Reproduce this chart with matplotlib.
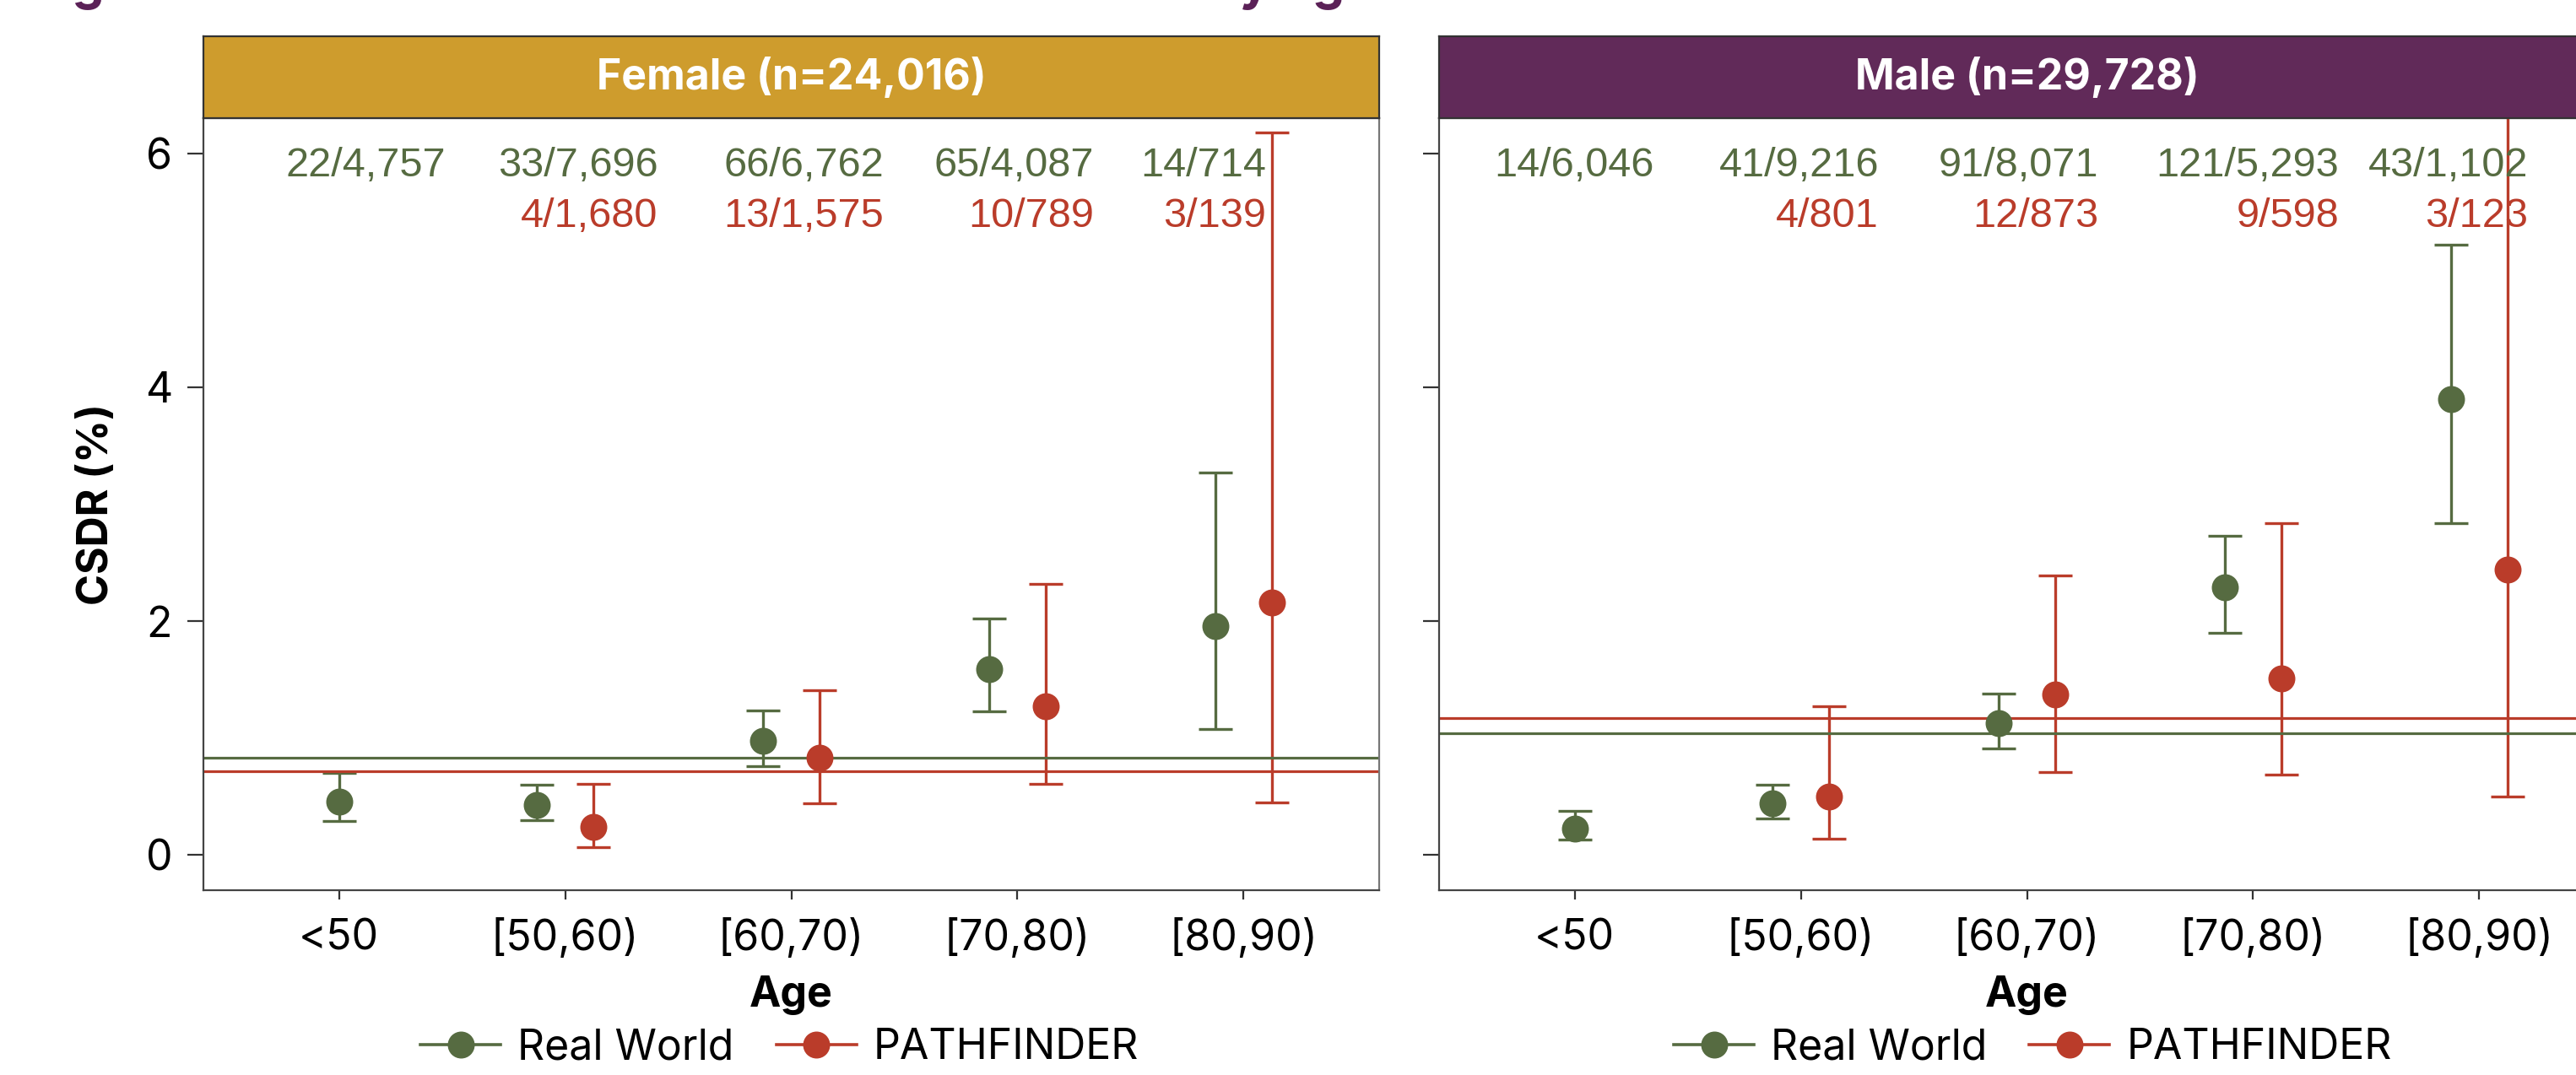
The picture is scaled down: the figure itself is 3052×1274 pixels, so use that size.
import numpy as np
import matplotlib
matplotlib.use("Agg")
import matplotlib.pyplot as plt
from matplotlib.lines import Line2D

plt.rcParams['font.family'] = ['Inter', 'DejaVu Sans']

# ---- data ----
age_groups = ["<50", "[50,60)", "[60,70)", "[70,80)", "[80,90)"]

female_rw_csdr = [0.46, 0.43, 0.98, 1.59, 1.96]
female_rw_lo = [0.29, 0.30, 0.76, 1.23, 1.08]
female_rw_hi = [0.70, 0.60, 1.24, 2.02, 3.27]
female_pf_csdr = [np.nan, 0.24, 0.83, 1.27, 2.16]
female_pf_lo = [np.nan, 0.065, 0.44, 0.61, 0.45]
female_pf_hi = [np.nan, 0.61, 1.41, 2.32, 6.18]

male_rw_csdr = [0.23, 0.44, 1.13, 2.29, 3.90]
male_rw_lo = [0.13, 0.31, 0.91, 1.90, 2.84]
male_rw_hi = [0.38, 0.60, 1.38, 2.73, 5.22]
male_pf_csdr = [np.nan, 0.50, 1.37, 1.51, 2.44]
male_pf_lo = [np.nan, 0.14, 0.71, 0.69, 0.50]
male_pf_hi = [np.nan, 1.27, 2.39, 2.84, 6.96]

female_rw_labels = ["22/4,757", "33/7,696", "66/6,762", "65/4,087", "14/714"]
female_pf_labels = ["", "4/1,680", "13/1,575", "10/789", "3/139"]
male_rw_labels = ["14/6,046", "41/9,216", "91/8,071", "121/5,293", "43/1,102"]
male_pf_labels = ["", "4/801", "12/873", "9/598", "3/123"]

female_overall = [0.83, 0.72]   # Real World, PATHFINDER
male_overall = [1.04, 1.17]

panel_titles = ["Female (n=24,016)", "Male (n=29,728)"]

# ---- styles ----
green = "#566B41"
red = "#BA3C2A"
strip_colors = ["#CE9C2D", "#612A59"]
label_offsets = [[0.47, 0.41, 0.41, 0.34, 0.10],
                 [0.35, 0.345, 0.316, 0.38, 0.216]]
dodge = 0.125

W, H = 3052, 1274
dpi = 200
fig = plt.figure(figsize=(W / dpi, H / dpi), dpi=dpi)

# figure title, cut off by the top edge (only descenders show)
title = fig.text(33 / W, 1.0 + 1 / H, "Figure 2. CSDR in Real World and PATHFINDER by age",
                 fontsize=18, fontweight='bold', color="#5B2157", va='baseline', ha='left')
renderer = fig.canvas.get_renderer()
tw = title.get_window_extent(renderer).width
title.set_fontsize(18 * 1600 / tw)

panels = [
    (female_rw_csdr, female_rw_lo, female_rw_hi, female_pf_csdr, female_pf_lo, female_pf_hi,
     female_rw_labels, female_pf_labels, female_overall),
    (male_rw_csdr, male_rw_lo, male_rw_hi, male_pf_csdr, male_pf_lo, male_pf_hi,
     male_rw_labels, male_pf_labels, male_overall),
]
lefts = [241, 1705]
legend_anchor = [0.49, 0.505]

x = np.arange(len(age_groups))
for i, p in enumerate(panels):
    rw, rw_lo, rw_hi, pf, pf_lo, pf_hi, rw_lab, pf_lab, overall = p
    rw = np.array(rw); pf = np.array(pf)
    ax = fig.add_axes([lefts[i] / W, 1 - 1055 / H, 1393 / W, 915 / H])

    # dodge only where both series exist
    both = ~np.isnan(pf)
    x_rw = np.where(both, x - dodge, x)
    x_pf = x + dodge

    ax.errorbar(x_rw, rw, yerr=[rw - np.array(rw_lo), np.array(rw_hi) - rw],
                fmt='none', ecolor=green, elinewidth=1.2, capsize=7.2, capthick=1.2, zorder=2)
    ax.errorbar(x_pf[both], pf[both],
                yerr=[pf[both] - np.array(pf_lo)[both], np.array(pf_hi)[both] - pf[both]],
                fmt='none', ecolor=red, elinewidth=1.2, capsize=7.2, capthick=1.2, zorder=2)
    ax.axhline(overall[0], color=green, lw=1.15, zorder=2.5)
    ax.axhline(overall[1], color=red, lw=1.15, zorder=2.5)
    ax.plot(x_rw, rw, 'o', color=green, ms=10.5, zorder=3)
    ax.plot(x_pf[both], pf[both], 'o', color=red, ms=10.5, zorder=3)

    for k in range(len(age_groups)):
        xt = x[k] + label_offsets[i][k]
        ax.text(xt, 5.80, rw_lab[k], color=green, ha='right', va='baseline',
                fontsize=17.5, family=['Liberation Sans'])
        if pf_lab[k]:
            ax.text(xt, 5.37, pf_lab[k], color=red, ha='right', va='baseline',
                    fontsize=17.5, family=['Liberation Sans'])

    ax.set_xlim(-0.6, 4.6)
    ax.set_ylim(-0.3, 6.3)
    ax.set_xticks(x)
    ax.set_xticklabels(age_groups)
    ax.set_yticks([0, 2, 4, 6])
    if i == 0:
        ax.set_yticklabels(["0", "2", "4", "6"])
        ax.set_ylabel("CSDR (%)", fontsize=18, fontweight='bold', labelpad=12)
    else:
        ax.set_yticklabels([])
    ax.set_xlabel("Age", fontsize=18, fontweight='bold', labelpad=7)
    ax.tick_params(axis='y', length=6.8, width=0.8, color='#333333', pad=6.5, labelsize=18)
    ax.tick_params(axis='x', length=4, width=0.8, color='#333333', pad=8, labelsize=18)
    for side in ['top', 'right']:
        ax.spines[side].set_color('#777777')
        ax.spines[side].set_linewidth(0.8)
    for side in ['left', 'bottom']:
        ax.spines[side].set_color('#444444')
        ax.spines[side].set_linewidth(0.8)

    # facet strip
    sax = fig.add_axes([lefts[i] / W, 1 - 140 / H, 1393 / W, 97 / H])
    sax.set_xticks([]); sax.set_yticks([])
    sax.set_facecolor(strip_colors[i])
    for s in sax.spines.values():
        s.set_color('#333333'); s.set_linewidth(0.8)
    sax.text(0.5, 0.5, panel_titles[i], color='white', fontsize=18, fontweight='bold',
             ha='center', va='center', transform=sax.transAxes)

    handles = [Line2D([], [], color=green, lw=1.3, marker='o', ms=10.5),
               Line2D([], [], color=red, lw=1.3, marker='o', ms=10.5)]
    ax.legend(handles, ["Real World", "PATHFINDER"], loc='center',
              bbox_to_anchor=(legend_anchor[i], -0.204), ncol=2, frameon=False,
              fontsize=18, handlelength=1.9, handletextpad=0.4, columnspacing=1.0)

fig.savefig("out.png", dpi=dpi)
